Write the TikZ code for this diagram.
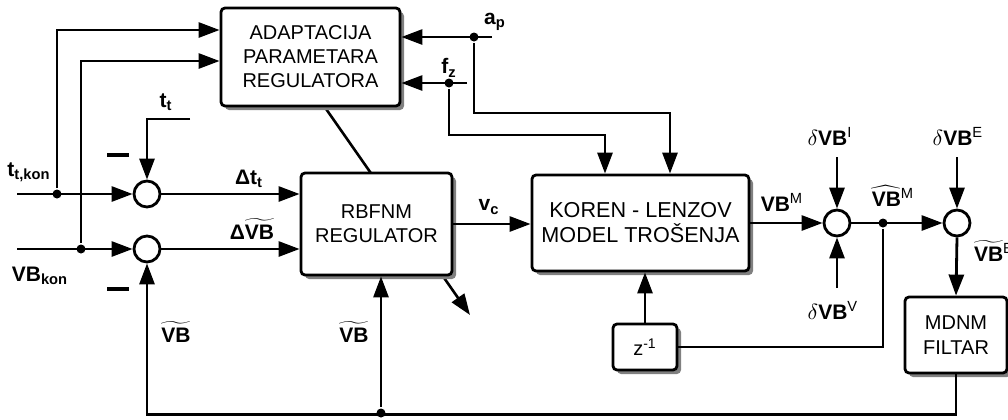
\documentclass[tikz,border=0pt]{standalone}
\usepackage{fontspec}
\setmainfont{Liberation Sans}
\usetikzlibrary{positioning,arrows.meta,shadows,backgrounds,calc}

\begin{document}
\begin{tikzpicture}[
    x=0.5pt, y=-0.5pt,
    font=\fontsize{10}{12}\selectfont,
    line width=1.4pt,
    box/.style={draw, rounded corners=2pt, align=center, inner sep=2pt, fill=white,
                drop shadow={shadow xshift=2pt, shadow yshift=-2pt, fill=black!50, opacity=1}},
    sum/.style={draw, circle, minimum size=13pt, inner sep=0pt, fill=white},
    dot/.style={circle, fill, inner sep=0pt, minimum size=4.5pt},
    arr/.style={-{Triangle[length=10.5pt, width=7.5pt]}},
    lbl/.style={inner sep=1pt, font=\fontsize{10.5}{12}\selectfont\bfseries},
    minus/.style={fill, inner sep=0pt, minimum width=11pt, minimum height=2.4pt}
  ]
  \useasboundingbox (0,0) rectangle (1008,419);

  % blocks
  \node[box, minimum width=89.5pt, minimum height=49pt] (adapt) at (310.5, 57) {ADAPTACIJA\\PARAMETARA\\REGULATORA};
  \coordinate (adjin)  at ([xshift=7.25pt]adapt.south);
  \coordinate (adjout) at (470, 315);
  \begin{scope}[on background layer]
    \draw[arr, line width=1.3pt] (adjin) -- (adjout);
  \end{scope}
  \node[box, minimum width=75.5pt, minimum height=51pt]  (rbf)   at (376.5, 224) {RBFNM\\REGULATOR};
  \node[box, minimum width=108.5pt, minimum height=48pt,
        font=\fontsize{10.8}{12.5}\selectfont]           (koren) at (640.5, 223) {KOREN - LENZOV\\MODEL TROŠENJA};
  \node[box, minimum width=32pt, minimum height=23pt]    (zinv)  at (645, 347) {z\textsuperscript{-1}};
  \node[box, minimum width=51pt, minimum height=38pt,
        font=\fontsize{10}{12.5}\selectfont]             (mdnm)  at (956, 335) {MDNM\\FILTAR};

  % summing points
  \node[sum] (s1) at (147, 194) {};
  \node[sum] (s2) at (147, 249) {};
  \node[sum] (s3) at (837, 223) {};
  \node[sum] (s4) at (957, 223) {};
  \node[minus] (minA) at (118, 155) {};
  \node[minus] (minB) at (118, 289) {};

  % free ends and branch points
  \coordinate (tin)  at (17, 194);
  \coordinate (vin)  at (17, 249);
  \coordinate (ttin) at (190, 119);
  \coordinate (apin) at (492, 37);
  \coordinate (fzin) at (467, 83);
  \coordinate (dI)   at (837, 157);
  \coordinate (dV)   at (837, 288);
  \coordinate (dE)   at (957, 157);

  % labels
  \node[lbl] (ltkon)  at (29, 172)  {t\textsubscript{t,kon}};
  \node[lbl] (lvbkon) at (40, 276)  {VB\textsubscript{kon}};
  \node[lbl] (ltt)    at (166, 102) {t\textsubscript{t}};
  \node[lbl] (ldt)    at (249, 179) {Δt\textsubscript{t}};
  \node[lbl] (ldvb)   at (252, 229) {Δ$\widetilde{\hbox{VB}}$};
  \node[lbl] (lvbA)   at (176, 332) {$\widetilde{\hbox{VB}}$};
  \node[lbl] (lvbB)   at (354, 332) {$\widetilde{\hbox{VB}}$};
  \node[lbl] (lap)    at (495, 22)  {a\textsubscript{p}};
  \node[lbl] (lfz)    at (449, 68)  {f\textsubscript{z}};
  \node[lbl] (lvc)    at (489, 207) {v\textsubscript{c}};
  \node[lbl] (lvbm)   at (782, 202) {VB\textsuperscript{\mdseries M}};
  \node[lbl] (lvbhm)  at (893, 196) {$\widehat{\hbox{VB}}$\textsuperscript{\mdseries M}};
  \node[lbl] (ldvi)   at (830, 136) {$\delta$VB\textsuperscript{\mdseries I}};
  \node[lbl] (ldve)   at (958, 136) {$\delta$VB\textsuperscript{\mdseries E}};
  \node[lbl] (ldvv)   at (833, 310) {$\delta$VB\textsuperscript{\mdseries V}};
  \node[lbl] (lvbe)   at (994, 251) {$\widetilde{\hbox{VB}}$\textsuperscript{\mdseries E}};

  % connections
  \draw[arr] (tin) -- (s1.west);
  \draw[arr] (vin) -- (s2.west);
  \draw[arr] (ttin) -| (s1.north);
  \draw[arr] (s1.east) -- (s1 -| rbf.west);
  \draw[arr] (s2.east) -- (s2 -| rbf.west);
  \node[dot] (j1) at (57, 194) {};
  \node[dot] (j2) at (81, 249) {};
  \draw[arr] (j1) |- ([yshift=13.5pt]adapt.west);
  \draw[arr] (j2) |- ([yshift=-2pt]adapt.west);

  \draw[arr] (apin) -- (apin -| adapt.east);
  \draw[arr] (fzin) -- (fzin -| adapt.east);
  \node[dot] (ja) at (474, 37) {};
  \node[dot] (jf) at (449, 83) {};
  \draw[arr] (ja) -- ++(0,76) -| ([xshift=14.75pt]koren.north);
  \draw[arr] (jf) -- ++(0,52) -| ([xshift=-17.75pt]koren.north);

  \draw[arr] (rbf.east) -- (rbf.east -| koren.west);
  \draw[arr] (koren.east) -- (s3.west);
  \draw[arr] (dI) -- (s3.north);
  \draw[arr] (dV) -- (s3.south);
  \draw[arr] (s3.east) -- (s4.west);
  \node[dot] (j3) at (883, 223) {};
  \draw (j3) |- (zinv.east);
  \draw[arr] (zinv.north) -- (zinv.north |- koren.south);
  \draw[arr] (dE) -- (s4.north);
  \draw[arr] (s4.south) -- (mdnm.north);
  \draw[arr] (mdnm.south) -- ++(0,40) -| (s2.south);
  \node[dot] (jb) at (381, 413) {};
  \draw[arr] (jb) -- (jb |- rbf.south);
\end{tikzpicture}
\end{document}
